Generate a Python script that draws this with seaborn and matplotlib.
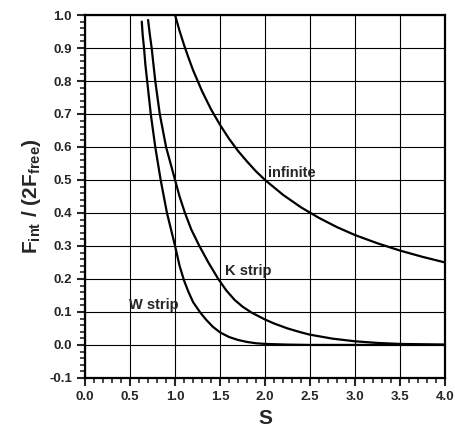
import numpy as np
import pandas as pd
import matplotlib
matplotlib.use('Agg')
import matplotlib.pyplot as plt
from matplotlib.ticker import MultipleLocator
import seaborn as sns

# values
s_inf = [1.0, 1.05, 1.1, 1.15, 1.2, 1.3, 1.4, 1.5, 1.6, 1.7, 1.8, 1.9, 2.0, 2.2, 2.4, 2.6,
         2.8, 3.0, 3.25, 3.5, 3.75, 4.0]
f_inf = [1.0, 0.952, 0.909, 0.87, 0.833, 0.769, 0.714, 0.667, 0.625, 0.588, 0.556, 0.526, 0.5,
         0.455, 0.417, 0.385, 0.357, 0.333, 0.308, 0.286, 0.267, 0.25]

s_k = [0.70, 0.72, 0.74, 0.76, 0.78, 0.805, 0.83, 0.865, 0.90, 0.95, 1.0, 1.05, 1.11, 1.18,
       1.27, 1.37, 1.48, 1.57, 1.66, 1.75, 1.85, 2.0, 2.1, 2.25, 2.4, 2.5, 2.75, 3.0, 3.25,
       3.5, 4.0]
f_k = [0.985, 0.94, 0.9, 0.85, 0.8, 0.75, 0.7, 0.65, 0.6, 0.55, 0.5, 0.45, 0.4, 0.35,
       0.3, 0.25, 0.2, 0.165, 0.137, 0.116, 0.098, 0.077, 0.065, 0.05, 0.038,
       0.031, 0.019, 0.011, 0.006, 0.003, 0.001]

s_w = [0.63, 0.64, 0.655, 0.67, 0.69, 0.71, 0.73, 0.755, 0.78, 0.81, 0.84, 0.875, 0.91, 0.955,
       1.0, 1.05, 1.1, 1.15, 1.2, 1.28, 1.35, 1.42, 1.5, 1.6, 1.7, 1.8, 1.9, 2.0, 2.25, 2.5, 4.0]
f_w = [0.98, 0.94, 0.9, 0.85, 0.8, 0.75, 0.7, 0.65, 0.6, 0.55, 0.5, 0.45, 0.4, 0.35,
       0.3, 0.24, 0.195, 0.16, 0.13, 0.098, 0.075, 0.055, 0.038, 0.024, 0.015, 0.009, 0.005,
       0.003, 0.001, 0.0, 0.0]

sns.set_style('ticks')
plt.rcParams['font.family'] = ['Liberation Sans', 'DejaVu Sans']
plt.rcParams['mathtext.fontset'] = 'custom'
plt.rcParams['mathtext.rm'] = 'Liberation Sans:bold'
plt.rcParams['mathtext.bf'] = 'Liberation Sans:bold'
plt.rcParams['axes.unicode_minus'] = False

fig = plt.figure(figsize=(4.55, 4.42), dpi=100)
ax = fig.add_axes([0.187, 0.145, 0.791, 0.821])

for s, f in [(s_inf, f_inf), (s_k, f_k), (s_w, f_w)]:
    df = pd.DataFrame({'s': s, 'f': f})
    sns.lineplot(data=df, x='s', y='f', ax=ax, color='black', lw=1.6, sort=False)

ax.set_xlim(0, 4)
ax.set_ylim(-0.1, 1.0)
ax.xaxis.set_major_locator(MultipleLocator(0.5))
ax.xaxis.set_minor_locator(MultipleLocator(0.1))
ax.yaxis.set_major_locator(MultipleLocator(0.1))
ax.yaxis.set_minor_locator(MultipleLocator(0.02))
ax.grid(True, which='major', color='black', lw=0.8)
ax.tick_params(which='major', direction='out', length=6, width=1.5, labelsize=9.5)
ax.tick_params(which='minor', direction='out', length=3.5, width=1.2)
for sp in ax.spines.values():
    sp.set_linewidth(1.6)
    sp.set_color('black')
for lab in ax.get_xticklabels() + ax.get_yticklabels():
    lab.set_fontweight('bold')

ax.set_xlabel('S', fontsize=15, fontweight='bold')
ax.set_ylabel(r'F$_{\rm int}$ / (2F$_{\rm free}$)', fontsize=15, fontweight='bold')

ax.text(2.03, 0.52, 'infinite', fontsize=10.5, fontweight='bold', va='center')
ax.text(1.56, 0.225, 'K strip', fontsize=10.5, fontweight='bold', va='center')
ax.text(0.49, 0.122, 'W strip', fontsize=10.5, fontweight='bold', va='center')

fig.savefig('out.png', dpi=100)
